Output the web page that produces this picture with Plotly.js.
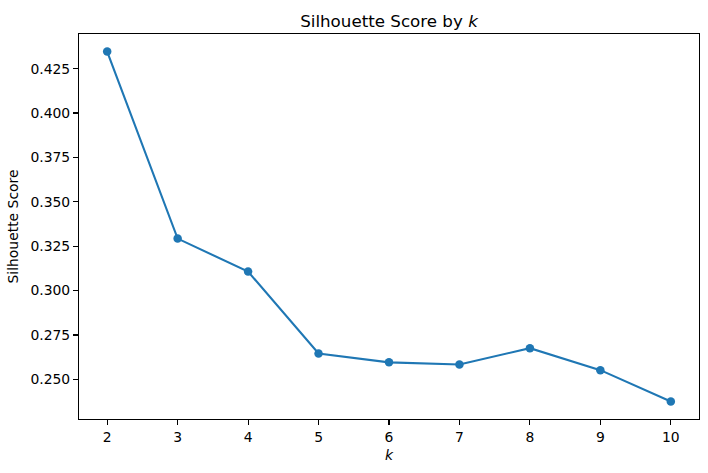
<!DOCTYPE html>
<html>
<head>
<meta charset="utf-8">
<script src="https://cdn.plot.ly/plotly-3.0.1.min.js"></script>
<style>html,body{margin:0;padding:0;background:#fff;}#chart{width:708px;height:473px;}</style>
</head>
<body>
<div id="chart"></div>
<script>
const kValues = [2, 3, 4, 5, 6, 7, 8, 9, 10];
const silhouetteScores = [0.4346, 0.3293, 0.3107, 0.2646, 0.2596, 0.2584, 0.2676, 0.2552, 0.2376];
const yTickValues = [0.250, 0.275, 0.300, 0.325, 0.350, 0.375, 0.400, 0.425];

const trace = {
  x: kValues,
  y: silhouetteScores,
  type: 'scatter',
  mode: 'lines+markers',
  line: {color: '#1f77b4', width: 2.1},
  marker: {color: '#1f77b4', size: 8.5},
  hoverinfo: 'x+y'
};

const axisCommon = {
  showline: true,
  linecolor: '#000',
  linewidth: 1.1,
  mirror: true,
  ticks: 'outside',
  ticklen: 4.9,
  tickwidth: 1.1,
  tickcolor: '#000',
  showgrid: false,
  zeroline: false,
  tickfont: {family: 'DejaVu Sans', size: 13.9, color: '#000'}
};

const layout = {
  width: 708,
  height: 473,
  margin: {l: 79, r: 9, t: 33.5, b: 53.7, pad: 0},
  paper_bgcolor: '#fff',
  plot_bgcolor: '#fff',
  showlegend: false,
  title: {
    text: 'Silhouette Score by <i>k</i>',
    font: {family: 'DejaVu Sans', size: 16.7, color: '#000'},
    x: 0.5, xanchor: 'center', xref: 'paper',
    y: 1, yref: 'paper', yanchor: 'bottom', pad: {b: 7}
  },
  xaxis: Object.assign({}, axisCommon, {
    range: [1.6, 10.4],
    tickmode: 'array',
    tickvals: kValues,
    ticktext: kValues.map(String),
    title: {text: '<i>k</i>', font: {family: 'DejaVu Sans', size: 13.9, color: '#000'}, standoff: 6}
  }),
  yaxis: Object.assign({}, axisCommon, {
    range: [0.2277, 0.4445],
    tickmode: 'array',
    tickvals: yTickValues,
    ticktext: yTickValues.map(v => v.toFixed(3)),
    title: {text: 'Silhouette Score', font: {family: 'DejaVu Sans', size: 13.9, color: '#000'}, standoff: 8}
  })
};

Plotly.newPlot('chart', [trace], layout, {displayModeBar: false, staticPlot: true});
</script>
</body>
</html>
